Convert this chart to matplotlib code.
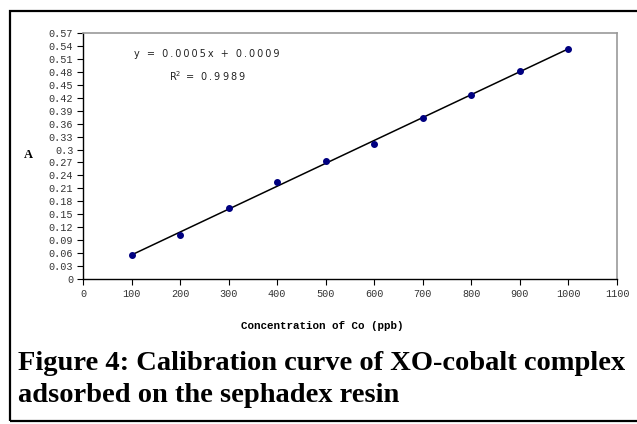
import numpy as np
import matplotlib
matplotlib.use('Agg')
import matplotlib.pyplot as plt
from matplotlib.patches import Rectangle

# data
conc = [100, 200, 300, 400, 500, 600, 700, 800, 900, 1000]
absorb = [0.055, 0.102, 0.164, 0.225, 0.273, 0.312, 0.374, 0.426, 0.482, 0.533]
x_ticks = list(range(0, 1101, 100))
y_ticks = [round(0.03 * i, 2) for i in range(20)]

TS = '\u2009'  # thin space, mimics the spaced-out Excel text
MONO = 'Liberation Mono'


def spaced(s):
    return TS.join(s)


def ylab(v):
    if v == 0:
        return '0'
    return ('%.2f' % v).rstrip('0').rstrip('.')


W, H = 637, 424
fig = plt.figure(figsize=(W / 100, H / 100), dpi=100)

# outer frame
fig.patches.append(Rectangle((10 / W, 1 - 421 / H), 1.0, (421 - 11) / H,
                             transform=fig.transFigure, fill=False,
                             edgecolor='black', linewidth=1.6))

ax = fig.add_axes([83 / W, 1 - 279 / H, (617 - 83) / W, (279 - 33) / H])

coef = np.polyfit(conc, absorb, 1)
xs = np.array([conc[0], conc[-1]])
ax.plot(xs, np.polyval(coef, xs), color='black', linewidth=1.1, zorder=2)
ax.plot(conc, absorb, 'o', color='#000080', markersize=4, zorder=3)

ax.set_xlim(0, 1100)
ax.set_ylim(0, 0.57)
ax.set_xticks(x_ticks)
ax.set_xticklabels([str(t) for t in x_ticks])
ax.set_yticks(y_ticks)
ax.set_yticklabels([ylab(t) for t in y_ticks])
ax.tick_params(direction='out', length=4, width=0.8, labelsize=7.3,
               labelcolor='#333333', pad=3)
for lab in ax.get_xticklabels() + ax.get_yticklabels():
    lab.set_family(MONO)

for s in ['top', 'right']:
    ax.spines[s].set_color('#999999')
    ax.spines[s].set_linewidth(1.2)
for s in ['left', 'bottom']:
    ax.spines[s].set_linewidth(1.0)

fig.text(207 / W, 1 - 54 / H, spaced('y = 0.0005x + 0.0009'),
         ha='center', va='center', fontsize=7, color='#222222')
fig.text(207 / W, 1 - 76 / H, spaced('R') + '$^{2}$' + spaced(' = 0.9989'),
         ha='center', va='center', fontsize=7, color='#222222')

fig.text(322 / W, 1 - 326 / H, 'Concentration of Co (ppb)',
         ha='center', va='center', fontsize=7.8, fontweight='bold',
         family=MONO)
fig.text(28 / W, 1 - 155 / H, 'A', ha='center', va='center', fontsize=9,
         fontweight='bold', family='Liberation Serif')

cap = dict(fontsize=20.5, fontweight='bold', family='Liberation Serif',
           ha='left', va='baseline')
fig.text(18 / W, 1 - 370 / H, 'Figure 4: Calibration curve of XO-cobalt complex', **cap)
fig.text(18 / W, 1 - 402 / H, 'adsorbed on the sephadex resin', **cap)

fig.savefig('out.png', dpi=100)
